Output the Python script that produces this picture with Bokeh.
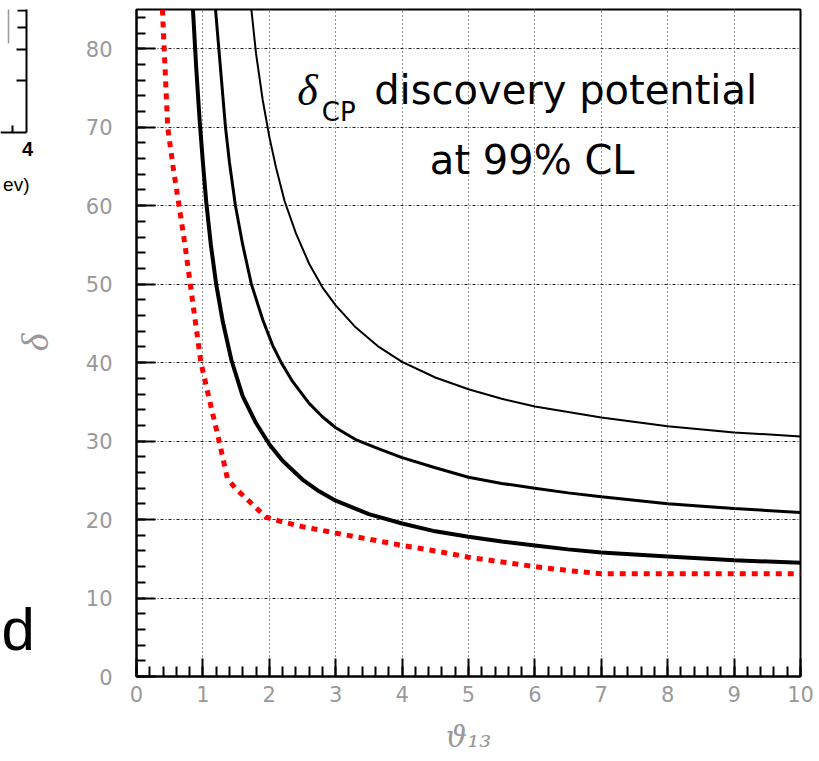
import math
from bokeh.plotting import figure
from bokeh.layouts import row
from bokeh.models import SingleIntervalTicker, Label, Range1d
from bokeh.core.properties import value
from bokeh.embed import file_html
from bokeh.resources import INLINE

# ---- data ----
x_ticks = list(range(0, 11))
y_ticks = list(range(0, 90, 10))

curve_a_x = [0.85, 0.90, 0.95, 1.00, 1.05, 1.12, 1.20, 1.30, 1.43, 1.60, 1.80, 2.00, 2.20, 2.50, 2.75, 3.00, 3.50, 4.00, 4.50, 5.00, 5.50, 6.00, 6.50, 7.00, 8.00, 9.00, 10.0]
curve_a_y = [85.0, 77.5, 71.0, 65.5, 60.5, 55.0, 50.0, 45.2, 40.3, 35.7, 32.3, 29.6, 27.5, 25.1, 23.6, 22.4, 20.7, 19.5, 18.5, 17.8, 17.2, 16.7, 16.2, 15.8, 15.3, 14.8, 14.5]

curve_b_x = [1.19, 1.25, 1.34, 1.40, 1.49, 1.60, 1.73, 1.90, 2.05, 2.18, 2.35, 2.60, 2.80, 3.00, 3.30, 3.65, 4.00, 4.50, 5.00, 5.50, 6.00, 6.50, 7.00, 8.00, 9.00, 10.0]
curve_b_y = [85.0, 79.0, 70.0, 65.5, 60.0, 55.0, 50.0, 45.5, 42.2, 40.0, 37.6, 34.8, 33.1, 31.7, 30.2, 29.0, 27.9, 26.6, 25.4, 24.6, 24.0, 23.4, 22.9, 22.0, 21.4, 20.9]

curve_c_x = [1.73, 1.80, 1.90, 2.00, 2.10, 2.23, 2.40, 2.60, 2.80, 3.00, 3.30, 3.65, 4.00, 4.50, 5.00, 5.50, 6.00, 7.00, 8.00, 9.00, 10.0]
curve_c_y = [85.0, 79.4, 73.5, 68.8, 64.9, 60.6, 56.5, 52.6, 49.6, 47.3, 44.5, 42.0, 40.1, 38.1, 36.6, 35.4, 34.4, 33.0, 31.9, 31.1, 30.6]

red_x = [0.39, 0.43, 0.47, 0.55, 0.65, 0.73, 0.81, 0.89, 0.97, 1.10, 1.25, 1.37, 1.50, 1.65, 1.80, 1.95, 2.20, 2.50, 3.05, 3.50, 4.00, 4.50, 5.00, 5.50, 6.00, 6.50, 7.00, 10.0]
red_y = [85.0, 77.5, 70.0, 65.0, 59.5, 55.0, 50.0, 45.0, 40.0, 35.2, 29.8, 25.2, 23.9, 22.7, 21.5, 20.3, 19.7, 19.1, 18.2, 17.5, 16.7, 16.0, 15.2, 14.6, 14.0, 13.5, 13.1, 13.1]

title_line1 = "discovery potential"
title_line2 = "at 99% CL"
y_title = "δ"
x_title = "ϑ₁₃"

H = 761
TOP = 9        # frame top row
BOTTOM = 85    # border below the frame

# ---- left strip: y-axis title and fragments of neighbouring slide content ----
LEFT_W = 55
pl = figure(width=LEFT_W, height=H, x_range=Range1d(0, LEFT_W), y_range=Range1d(BOTTOM, H - TOP),
            output_backend="svg", toolbar_location=None, x_axis_location=None, y_axis_location=None,
            min_border_left=0, min_border_right=0, min_border_top=TOP, min_border_bottom=BOTTOM)
pl.outline_line_color = None
pl.background_fill_color = "white"
pl.border_fill_color = "white"
pl.grid.visible = False

def up(py):
    # screen row (from top) -> strip coordinate (from bottom)
    return H - py

pl.segment(x0=[8], y0=[up(0)], x1=[8], y1=[up(43)], line_color="#999999", line_width=1.5)
pl.segment(x0=[26, 0, 17, 17, 16, 16, 12],
           y0=[up(0), up(132), up(10), up(27), up(49), up(80), up(125)],
           x1=[26, 26, 26, 26, 26, 26, 12],
           y1=[up(132), up(132), up(10), up(27), up(49), up(80), up(132)],
           line_color="black", line_width=2)
pl.text(x=[27], y=[up(154) + 6], text=["4"], text_align="center", text_baseline="alphabetic",
        text_font=value("Liberation Sans"), text_font_size="20px", text_font_style="bold", text_color="black")
pl.text(x=[29], y=[up(190) + 6], text=["ev)"], text_align="right", text_baseline="alphabetic",
        text_font=value("Liberation Sans"), text_font_size="19px", text_color="black")
pl.text(x=[1], y=[up(649) + 20], text=["d"], text_align="left", text_baseline="alphabetic",
        text_font=value("Liberation Sans"), text_font_size="60px", text_color="black")
pl.text(x=[34], y=[up(342)], text=[y_title], angle=math.pi / 2, text_align="center", text_baseline="middle",
        text_font=value("Liberation Serif"), text_font_style="italic", text_font_size="38px",
        text_color="#999999")

# ---- main figure ----
p = figure(width=819 - LEFT_W, height=H, x_range=Range1d(0, 10), y_range=Range1d(0, 85),
           output_backend="svg", toolbar_location=None,
           min_border_left=136 - LEFT_W, min_border_right=19, min_border_top=TOP, min_border_bottom=BOTTOM)
p.background_fill_color = "white"
p.border_fill_color = "white"
p.outline_line_color = "black"
p.outline_line_width = 2

p.xaxis.ticker = SingleIntervalTicker(interval=1, num_minor_ticks=5)
p.yaxis.ticker = SingleIntervalTicker(interval=10, num_minor_ticks=5)
p.xaxis.major_label_overrides = {t: str(t) for t in x_ticks}
p.yaxis.major_label_overrides = {t: str(t) for t in y_ticks}

for ax in (p.xaxis[0], p.yaxis[0]):
    ax.axis_line_color = "black"
    ax.axis_line_width = 2
    ax.major_tick_line_color = "black"
    ax.minor_tick_line_color = "black"
    ax.major_tick_line_width = 2
    ax.minor_tick_line_width = 2
    ax.major_tick_out = 0
    ax.minor_tick_out = 0
    ax.major_label_text_font = "DejaVu Sans"
    ax.major_label_text_font_size = "21px"
    ax.major_label_text_color = "#999999"
    ax.axis_label_text_color = "#999999"

p.xaxis.major_tick_in = 18
p.xaxis.minor_tick_in = 10
p.yaxis.major_tick_in = 19
p.yaxis.minor_tick_in = 9
p.xaxis.major_label_standoff = 9
p.yaxis.major_label_standoff = 24

p.xaxis.axis_label = x_title
p.xaxis.axis_label_text_font = "DejaVu Serif"
p.xaxis.axis_label_text_font_style = "italic"
p.xaxis.axis_label_text_font_size = "30px"
p.xaxis.axis_label_standoff = 14

p.xgrid.grid_line_color = "#222222"
p.xgrid.grid_line_dash = "1 3"
p.xgrid.grid_line_width = 1
p.ygrid.grid_line_color = "#222222"
p.ygrid.grid_line_dash = "3 2 1 2"
p.ygrid.grid_line_width = 1

# ---- curves ----
p.line(red_x, red_y, line_color="#ff0000", line_width=5, line_dash="6 6", line_cap="butt")
p.line(curve_a_x, curve_a_y, line_color="black", line_width=4)
p.line(curve_b_x, curve_b_y, line_color="black", line_width=3)
p.line(curve_c_x, curve_c_y, line_color="black", line_width=2)

# ---- in-plot title ----
dy = 1.7
p.add_layout(Label(x=2.42, y=73.0 + dy, text="δ", text_font="Liberation Serif", text_font_style="italic",
                   text_font_size="44px", text_color="black", text_baseline="alphabetic"))
p.add_layout(Label(x=2.79, y=70.3 + dy, text="CP", text_font="DejaVu Sans",
                   text_font_size="26px", text_color="black", text_baseline="alphabetic"))
p.add_layout(Label(x=3.58, y=73.0 + dy, text=title_line1, text_font="DejaVu Sans",
                   text_font_size="40px", text_color="black", text_baseline="alphabetic"))
p.add_layout(Label(x=5.96, y=64.1 + dy, text=title_line2, text_font="DejaVu Sans", text_align="center",
                   text_font_size="40px", text_color="black", text_baseline="alphabetic"))

open("out.html", "w").write(file_html(row(pl, p), INLINE))
